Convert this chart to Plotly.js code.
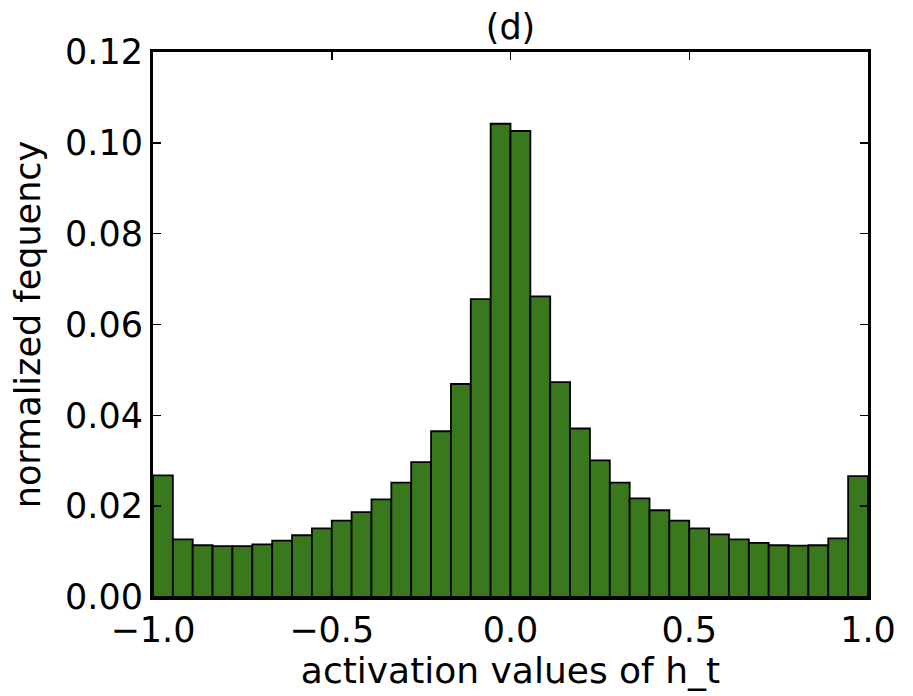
<!DOCTYPE html>
<html>
<head>
<meta charset="utf-8">
<script src="https://cdn.plot.ly/plotly-3.0.1.min.js"></script>
<style>html,body{margin:0;padding:0;background:#fff;}#chart{width:913px;height:696px;}</style>
</head>
<body>
<div id="chart"></div>
<script>
// Histogram of activation values: 36 bins from -1 to 1
const binStart = -1.0;
const binEnd = 1.0;
const frequencies = [
  0.0268, 0.0127, 0.0114, 0.0112, 0.0112, 0.0116, 0.0124, 0.0136, 0.0151,
  0.0168, 0.0187, 0.0215, 0.0252, 0.0297, 0.0365, 0.0469, 0.0656, 0.1042,
  0.1026, 0.0662, 0.0473, 0.0371, 0.0301, 0.0252, 0.0217, 0.0191, 0.0168,
  0.0151, 0.0138, 0.0127, 0.0119, 0.0114, 0.0113, 0.0114, 0.0129, 0.0266
];
const xTickVals = [-1.0, -0.5, 0.0, 0.5, 1.0];
const yTickVals = [0.00, 0.02, 0.04, 0.06, 0.08, 0.10, 0.12];

const binWidth = (binEnd - binStart) / frequencies.length;
const binCenters = frequencies.map((_, i) => binStart + (i + 0.5) * binWidth);

const font = 'DejaVu Sans, sans-serif';

const trace = {
  type: 'bar',
  x: binCenters,
  y: frequencies,
  width: binWidth,
  marker: { color: '#3a781e', line: { color: '#000000', width: 1.8 } },
  hoverinfo: 'x+y'
};

const layout = {
  width: 913, height: 696,
  margin: { l: 153, r: 45, t: 52, b: 99 },
  paper_bgcolor: '#ffffff', plot_bgcolor: '#ffffff',
  showlegend: false,
  bargap: 0,
  font: { family: font, size: 35, color: '#000000' },
  title: {
    text: '(d)',
    font: { family: font, size: 35, color: '#000000' },
    x: 0.5, xanchor: 'center', xref: 'paper',
    y: 1 - 27 / 696, yanchor: 'middle', yref: 'container'
  },
  xaxis: {
    range: [binStart, binEnd],
    tickvals: xTickVals,
    tickformat: '.1f',
    ticks: 'inside', ticklen: 8, tickwidth: 1.5, tickcolor: '#000',
    showline: true, linecolor: '#000', linewidth: 3, mirror: 'ticks',
    showgrid: false, zeroline: false,
    tickfont: { family: font, size: 35, color: '#000' },
    title: { text: 'activation values of h_t', font: { family: font, size: 36, color: '#000' }, standoff: 6 }
  },
  yaxis: {
    range: [0, 0.12],
    tickvals: yTickVals,
    tickformat: '.2f',
    ticks: 'inside', ticklen: 8, tickwidth: 1.5, tickcolor: '#000',
    showline: true, linecolor: '#000', linewidth: 3, mirror: 'ticks',
    showgrid: false, zeroline: false,
    tickfont: { family: font, size: 35, color: '#000' },
    title: { text: 'normalized fequency', font: { family: font, size: 35, color: '#000' }, standoff: 14 }
  }
};

Plotly.newPlot('chart', [trace], layout, { displayModeBar: false, staticPlot: true });
</script>
</body>
</html>
